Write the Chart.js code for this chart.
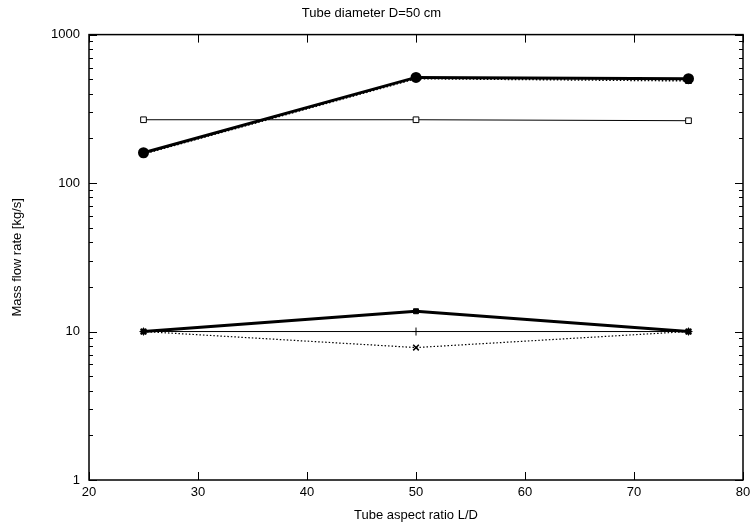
<!DOCTYPE html>
<html><head><meta charset="utf-8">
<script src="https://cdn.jsdelivr.net/npm/chart.js@4/dist/chart.umd.min.js"></script>
<style>html,body{margin:0;padding:0;background:#fff}#wrap{width:756px;height:527px}</style>
</head><body><div id="wrap"><canvas id="c" width="756" height="527"></canvas></div>
<script>
const aspectRatios = [25, 50, 75];
const topCircles = [160, 515, 505];
const topDotted = [157, 505, 488];
const squaresThin = [267, 267, 263];
const lowStars = [10, 13.7, 10];
const lowPlus = [10, 10, 10];
const lowCross = [10, 7.8, 10];
const xTicks = [20, 30, 40, 50, 60, 70, 80];
const yMajor = [1, 10, 100, 1000];

const pts = a => a.map((v, i) => ({x: aspectRatios[i], y: v}));

const tickPlugin = {
  id: 'inTicks',
  afterDraw(chart) {
    const {ctx, chartArea: ca, scales: {x, y}} = chart;
    ctx.save();
    ctx.strokeStyle = '#000';
    ctx.lineWidth = 1;
    ctx.beginPath();
    xTicks.forEach(v => {
      const px = Math.round(x.getPixelForValue(v)) + 0.5;
      ctx.moveTo(px, ca.bottom); ctx.lineTo(px, ca.bottom - 8);
      ctx.moveTo(px, ca.top); ctx.lineTo(px, ca.top + 8);
    });
    for (let d = 1; d <= 1000; d *= 10) {
      for (let m = 1; m < 10; m++) {
        const v = d * m;
        if (v > 1000) break;
        const len = m === 1 ? 8 : 4;
        const py = Math.round(y.getPixelForValue(v)) + 0.5;
        ctx.moveTo(ca.left, py); ctx.lineTo(ca.left + len, py);
        ctx.moveTo(ca.right, py); ctx.lineTo(ca.right - len, py);
      }
    }
    ctx.stroke();
    ctx.lineWidth = 1.5;
    ctx.strokeRect(ca.left, ca.top, ca.right - ca.left, ca.bottom - ca.top);
    ctx.restore();
  }
};

const font = {family: "'Liberation Sans', Arial, sans-serif", size: 13, weight: 'normal'};

new Chart(document.getElementById('c'), {
  type: 'scatter',
  data: {
    datasets: [
      {data: pts(topDotted), showLine: true, borderColor: '#000', backgroundColor: '#000', borderWidth: 1.5, borderDash: [1.5, 2], pointStyle: 'rect', pointRadius: 3.5},
      {data: pts(topCircles), showLine: true, borderColor: '#000', backgroundColor: '#000', borderWidth: 3, pointStyle: 'circle', pointRadius: 4},
      {data: pts(squaresThin), showLine: true, borderColor: '#000', backgroundColor: '#fff', borderWidth: 1, pointStyle: 'rect', pointRadius: 4, pointBorderWidth: 1},
      {data: pts(lowCross), showLine: true, borderColor: '#000', backgroundColor: '#000', borderWidth: 1.2, borderDash: [1.5, 2], pointStyle: 'crossRot', pointRadius: 4, pointBorderWidth: 1.5},
      {data: pts(lowPlus), showLine: true, borderColor: '#000', backgroundColor: '#000', borderWidth: 1, pointStyle: 'cross', pointRadius: 4, pointBorderWidth: 1},
      {data: pts(lowStars), showLine: true, borderColor: '#000', backgroundColor: '#000', borderWidth: 3, pointStyle: 'rect', pointRadius: 3.5, pointBorderWidth: 1}
    ]
  },
  options: {
    responsive: false,
    animation: false,
    layout: {padding: {left: 0, right: 13, top: 0, bottom: 0}},
    plugins: {
      legend: {display: false},
      tooltip: {enabled: false},
      title: {display: true, text: 'Tube diameter D=50 cm', color: '#000', font: font, padding: {top: 6, bottom: 13}}
    },
    scales: {
      x: {
        type: 'linear', min: 20, max: 80,
        afterBuildTicks: s => { s.ticks = xTicks.map(v => ({value: v})); },
        afterFit: s => { s.height = 47; },
        grid: {display: false, drawTicks: false},
        border: {display: false},
        ticks: {color: '#000', font: font, padding: 5, maxRotation: 0},
        title: {display: true, text: 'Tube aspect ratio L/D', color: '#000', font: font, padding: {top: 3}}
      },
      y: {
        type: 'logarithmic', min: 1, max: 1000,
        afterBuildTicks: s => { s.ticks = yMajor.map(v => ({value: v})); },
        afterFit: s => { s.width = 89; },
        grid: {display: false, drawTicks: false},
        border: {display: false},
        ticks: {color: '#000', font: font, padding: 9, callback: v => String(v)},
        title: {display: true, text: 'Mass flow rate [kg/s]', color: '#000', font: font, padding: {top: 10, bottom: 0}}
      }
    }
  },
  plugins: [tickPlugin]
});
</script>
</body></html>
